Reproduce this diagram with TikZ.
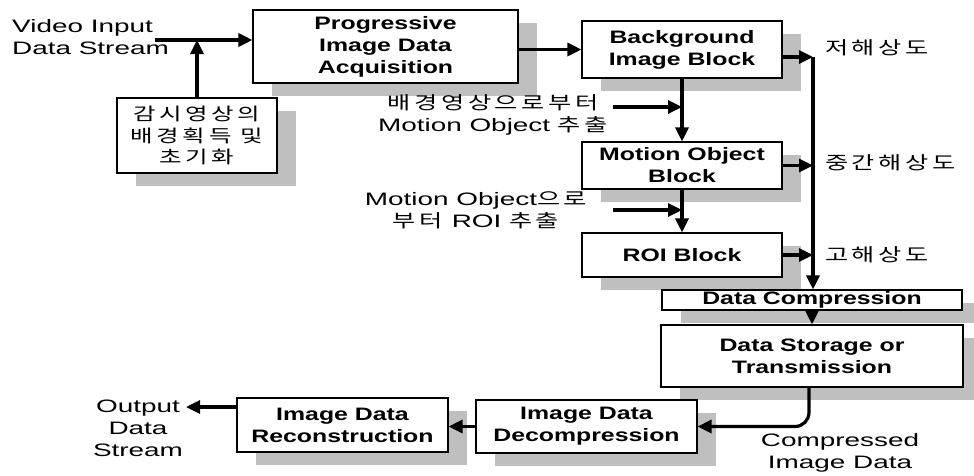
\documentclass[tikz,border=0pt]{standalone}
\usepackage{fontspec}
\setmainfont{Liberation Sans}[FakeStretch=1.55]
\newfontfamily\bx{Liberation Sans Bold}[FakeStretch=1.38]
\newfontfamily\kr{Noto Sans CJK KR}[FakeStretch=1.4,LetterSpace=20]
\usetikzlibrary{arrows.meta,shadows,positioning}

\tikzset{
  block/.style={draw, line width=1.1pt, fill=white, align=center, inner sep=0pt,
    font=\bx\fontsize{18}{22}\selectfont,
    drop shadow={shadow xshift=19pt, shadow yshift=-13pt, opacity=1, fill=gray!50}},
  note/.style={align=center, inner sep=0pt, font=\fontsize{18}{22}\selectfont},
  krnote/.style={inner sep=0pt, anchor=west, font=\kr\fontsize{18}{20}\selectfont},
  flow/.style={line width=3.2pt, -{Triangle[length=14pt,width=13pt]}},
}

\begin{document}
\begin{tikzpicture}[x=1pt,y=-1pt]
  \useasboundingbox (0,0) rectangle (974,475);

  % blocks
  \node[block, minimum width=265pt, minimum height=73pt] (prog) at (385.5,46.5) {Progressive\\Image Data\\Acquisition};
  \node[block, font=\kr\fontsize{17.5}{21.5}\selectfont, minimum width=160pt, minimum height=75pt] (init) at (197,135.5) {감시영상의\\배경획득 및\\초기화};
  \node[block, minimum width=200pt, minimum height=57pt] (bg) at (682,49.5) {Background\\Image Block};
  \node[block, minimum width=200pt, minimum height=47pt] (mot) at (682,165.5) {Motion Object\\Block};
  \node[block, minimum width=200pt, minimum height=44pt] (roi) at (682,255) {ROI Block};
  \node[block, minimum width=300pt, minimum height=20pt] (comp) at (812,300) {Data Compression};
  \node[block, minimum width=302pt, minimum height=62pt] (stor) at (812,356) {Data Storage or\\Transmission};
  \node[block, minimum width=221pt, minimum height=53pt] (decomp) at (586.5,426.5) {Image Data\\Decompression};
  \node[block, minimum width=211pt, minimum height=54pt] (recon) at (342.5,425) {Image Data\\Reconstruction};

  % labels
  \node[note, align=left, anchor=west] (vin) at (12,37.5) {Video Input\\Data Stream};
  \node[note] (lbgm) at (493,115) {{\kr 배경영상으로부터}\\Motion Object {\kr 추출}};
  \node[note] (lroi) at (476,210) {Motion Object{\kr 으로}\\{\kr 부터}\enspace ROI {\kr 추출}};
  \node[krnote] (low) at (825,48) {저해상도};
  \node[krnote] (mid) at (825,163) {중간해상도};
  \node[krnote] (high) at (825,255) {고해상도};
  \node[note] (out) at (138,428) {Output\\Data\\Stream};
  \node[note] (cid) at (840,453) {Compressed\\Image Data};

  % free ends
  \coordinate (vinend) at (155,40);
  \coordinate (bgm) at (613,107);
  \coordinate (roim) at (613,210);
  \coordinate (bus) at (813,57);
  \coordinate (outend) at (186,407);

  % connectors
  \draw[flow] (vinend) -- (vinend -| prog.west);
  \draw[flow] (init.north) -- (init.north |- vinend);
  \draw[flow] (prog.east |- bg.west) -- (bg.west);
  \draw[flow] (bg.south) -- (mot.north);
  \draw[flow] (mot.south) -- (roi.north);
  \draw[flow] (bgm) -- (bgm -| bg.south);
  \draw[flow] (roim) -- (roim -| mot.south);
  \draw[flow] (bus -| bg.east) -- (bus);
  \draw[flow] (mot.east) -- (mot.east -| bus);
  \draw[flow] (roi.east) -- (roi.east -| bus);
  \draw[flow] (bus) -- (bus |- comp.north);
  \draw[flow] (comp.south) -- (comp.south |- stor.north);
  \draw[flow, rounded corners=14pt] ([xshift=-3pt]stor.south) |- (decomp.east);
  \draw[flow] (decomp.west) -- (decomp.west -| recon.east);
  \draw[flow] (outend -| recon.west) -- (outend);
\end{tikzpicture}
\end{document}
